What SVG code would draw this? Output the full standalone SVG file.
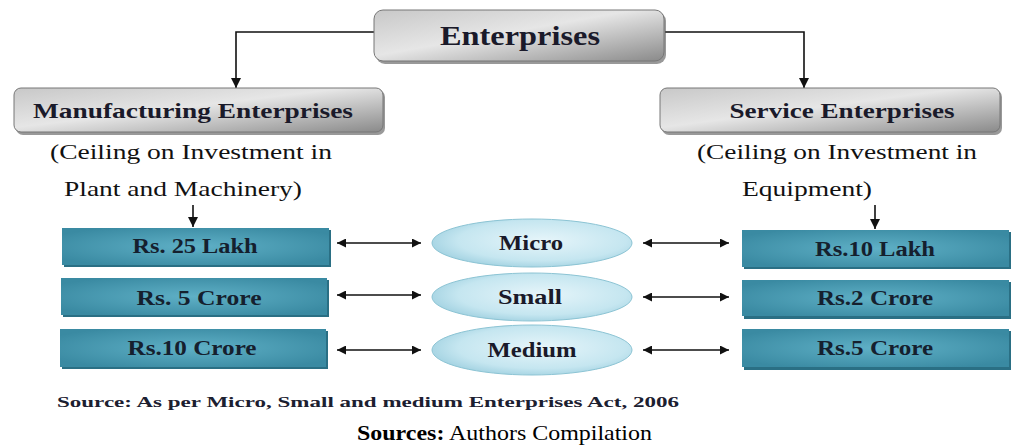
<svg xmlns="http://www.w3.org/2000/svg" width="1014" height="447" viewBox="0 0 1014 447">
<style>
.hdr{font-family:"Liberation Serif",serif;font-weight:bold;fill:#1a1a2a;text-anchor:middle}
.sub{font-family:"Liberation Serif",serif;font-size:22px;fill:#111;}
.val{font-family:"Liberation Serif",serif;font-weight:bold;font-size:20px;fill:#15202e;text-anchor:middle}
.ell{font-family:"Liberation Serif",serif;font-weight:bold;font-size:20px;fill:#1a1a2a;text-anchor:middle}
.ln{stroke:#111;stroke-width:1.6;fill:none}
</style>
<defs>
<linearGradient id="grey" x1="0" y1="0" x2="1" y2="1">
<stop offset="0" stop-color="#c8c8c8"/>
<stop offset="0.45" stop-color="#e6e6e6"/>
<stop offset="1" stop-color="#8a8a8a"/>
</linearGradient>
<radialGradient id="teal" cx="0.5" cy="0.5" r="0.6">
<stop offset="0" stop-color="#5fb0c6"/>
<stop offset="1" stop-color="#3a8aa2"/>
</radialGradient>
<radialGradient id="blue" cx="0.55" cy="0.45" r="0.6">
<stop offset="0" stop-color="#e6f5fa"/>
<stop offset="0.7" stop-color="#c5e6f0"/>
<stop offset="1" stop-color="#9fd0e0"/>
</radialGradient>
<marker id="ah" viewBox="0 0 10 10" refX="10" refY="5" markerWidth="10" markerHeight="10" markerUnits="userSpaceOnUse" orient="auto-start-reverse">
<path d="M0,0 L10,5 L0,10 z" fill="#111"/>
</marker>
<marker id="ah2" viewBox="0 0 10 10" refX="10" refY="5" markerWidth="13" markerHeight="9" markerUnits="userSpaceOnUse" orient="auto-start-reverse">
<path d="M0,0 L10,5 L0,10 z" fill="#111"/>
</marker>
</defs>
<rect width="1014" height="447" fill="#fff"/>
<g id="connectors">
<path class="ln" d="M374,32 H236 V88" marker-end="url(#ah)"/>
<path class="ln" d="M665,32 H804 V88" marker-end="url(#ah)"/>
<path class="ln" d="M193,205 V227" marker-end="url(#ah)"/>
<path class="ln" d="M875,205 V229" marker-end="url(#ah)"/>
<path class="ln" d="M337,243 H421" marker-start="url(#ah2)" marker-end="url(#ah2)"/>
<path class="ln" d="M337,295 H421" marker-start="url(#ah2)" marker-end="url(#ah2)"/>
<path class="ln" d="M337,350 H421" marker-start="url(#ah2)" marker-end="url(#ah2)"/>
<path class="ln" d="M643,243 H729" marker-start="url(#ah2)" marker-end="url(#ah2)"/>
<path class="ln" d="M643,297 H729" marker-start="url(#ah2)" marker-end="url(#ah2)"/>
<path class="ln" d="M643,350 H729" marker-start="url(#ah2)" marker-end="url(#ah2)"/>
</g>
<g id="enterprises">
<rect x="376" y="12" width="290" height="52" rx="9" fill="#555" opacity="0.6"/>
<rect x="374" y="10" width="290" height="51" rx="9" fill="url(#grey)" stroke="#777" stroke-width="1"/>
<text class="hdr" x="520" y="45" font-size="27" textLength="160" lengthAdjust="spacingAndGlyphs">Enterprises</text>
</g>
<g id="manufacturing">
<rect x="16" y="90" width="369" height="45" rx="7" fill="#555" opacity="0.6"/>
<rect x="14" y="88" width="369" height="44" rx="7" fill="url(#grey)" stroke="#777" stroke-width="1"/>
<text class="hdr" x="193" y="118" font-size="22" textLength="320" lengthAdjust="spacingAndGlyphs">Manufacturing Enterprises</text>
</g>
<g id="service">
<rect x="662" y="90" width="340" height="45" rx="7" fill="#555" opacity="0.6"/>
<rect x="660" y="88" width="340" height="44" rx="7" fill="url(#grey)" stroke="#777" stroke-width="1"/>
<text class="hdr" x="842" y="118" font-size="22" textLength="225" lengthAdjust="spacingAndGlyphs">Service Enterprises</text>
</g>
<g id="manuf-note">
<text class="sub" x="50" y="159" textLength="282" lengthAdjust="spacingAndGlyphs">(Ceiling on Investment in</text>
<text class="sub" x="64" y="196" textLength="238" lengthAdjust="spacingAndGlyphs">Plant and Machinery)</text>
</g>
<g id="service-note">
<text class="sub" x="697" y="159" textLength="280" lengthAdjust="spacingAndGlyphs">(Ceiling on Investment in</text>
<text class="sub" x="742" y="196" textLength="130" lengthAdjust="spacingAndGlyphs">Equipment)</text>
</g>
<g id="m-micro">
<rect x="64" y="230" width="267" height="37" fill="#2a6f84"/>
<rect x="62" y="228" width="267" height="37" fill="url(#teal)"/>
<text class="val" x="195" y="253" textLength="125" lengthAdjust="spacingAndGlyphs">Rs. 25 Lakh</text>
</g>
<g id="m-small">
<rect x="63" y="280" width="266" height="37" fill="#2a6f84"/>
<rect x="61" y="278" width="266" height="37" fill="url(#teal)"/>
<text class="val" x="199" y="305" textLength="125" lengthAdjust="spacingAndGlyphs">Rs. 5 Crore</text>
</g>
<g id="m-medium">
<rect x="62" y="331" width="266" height="38" fill="#2a6f84"/>
<rect x="60" y="329" width="266" height="38" fill="url(#teal)"/>
<text class="val" x="192" y="355" textLength="129" lengthAdjust="spacingAndGlyphs">Rs.10 Crore</text>
</g>
<g id="micro">
<ellipse cx="532" cy="243" rx="100" ry="24" fill="url(#blue)" stroke="#8cc4d4" stroke-width="1"/>
<text class="ell" x="531" y="250" textLength="64" lengthAdjust="spacingAndGlyphs">Micro</text>
</g>
<g id="small">
<ellipse cx="532" cy="297" rx="100" ry="24" fill="url(#blue)" stroke="#8cc4d4" stroke-width="1"/>
<text class="ell" x="530" y="304" textLength="64" lengthAdjust="spacingAndGlyphs">Small</text>
</g>
<g id="medium">
<ellipse cx="532" cy="350" rx="100" ry="25" fill="url(#blue)" stroke="#8cc4d4" stroke-width="1"/>
<text class="ell" x="532" y="357" textLength="89" lengthAdjust="spacingAndGlyphs">Medium</text>
</g>
<g id="s-micro">
<rect x="744" y="232" width="267" height="37" fill="#2a6f84"/>
<rect x="742" y="230" width="267" height="37" fill="url(#teal)"/>
<text class="val" x="875" y="256" textLength="120" lengthAdjust="spacingAndGlyphs">Rs.10 Lakh</text>
</g>
<g id="s-small">
<rect x="744" y="282" width="267" height="37" fill="#2a6f84"/>
<rect x="742" y="280" width="267" height="36" fill="url(#teal)"/>
<text class="val" x="875" y="305" textLength="116" lengthAdjust="spacingAndGlyphs">Rs.2 Crore</text>
</g>
<g id="s-medium">
<rect x="744" y="331" width="267" height="39" fill="#2a6f84"/>
<rect x="742" y="329" width="267" height="38" fill="url(#teal)"/>
<text class="val" x="875" y="355" textLength="116" lengthAdjust="spacingAndGlyphs">Rs.5 Crore</text>
</g>
<text x="57" y="407" font-family="Liberation Serif, serif" font-weight="bold" font-size="15" fill="#1c2030" textLength="622" lengthAdjust="spacingAndGlyphs">Source: As per Micro, Small and medium Enterprises Act, 2006</text>
<text x="357" y="440" font-family="Liberation Serif, serif" font-size="22" fill="#000" textLength="295" lengthAdjust="spacingAndGlyphs"><tspan font-weight="bold">Sources:</tspan> Authors Compilation</text>
</svg>
